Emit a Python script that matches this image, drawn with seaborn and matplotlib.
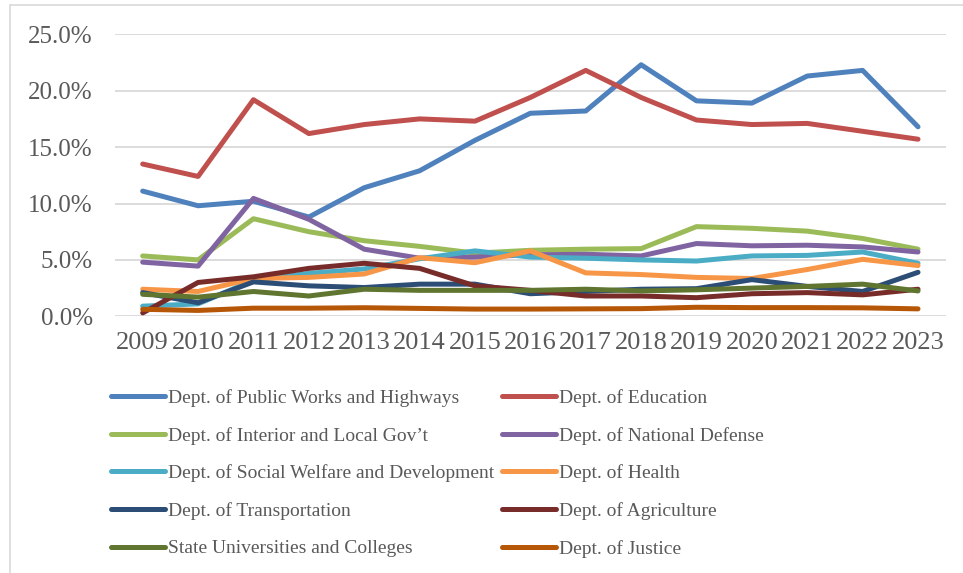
import pandas as pd
import seaborn as sns
import matplotlib
matplotlib.use('Agg')
import matplotlib.pyplot as plt
from matplotlib.lines import Line2D
from matplotlib.ticker import PercentFormatter

years = ['2009', '2010', '2011', '2012', '2013', '2014', '2015', '2016',
         '2017', '2018', '2019', '2020', '2021', '2022', '2023']

# share of total budget, percent
dpwh = [11.1, 9.8, 10.2, 8.8, 11.4, 12.9, 15.6, 18.0, 18.2, 22.3, 19.1, 18.9, 21.3, 21.8, 16.8]
deped = [13.5, 12.4, 19.2, 16.2, 17.0, 17.5, 17.3, 19.4, 21.8, 19.4, 17.4, 17.0, 17.1, 16.4, 15.7]
dilg = [5.35, 5.0, 8.65, 7.5, 6.7, 6.2, 5.6, 5.85, 5.95, 6.0, 7.95, 7.8, 7.55, 6.9, 5.95]
dnd = [4.8, 4.45, 10.45, 8.6, 5.95, 5.15, 5.25, 5.45, 5.5, 5.35, 6.45, 6.25, 6.3, 6.15, 5.7]
dswd = [0.9, 1.1, 3.2, 3.8, 4.2, 5.1, 5.8, 5.25, 5.15, 5.0, 4.9, 5.35, 5.4, 5.7, 4.7]
doh = [2.4, 2.2, 3.35, 3.45, 3.75, 5.2, 4.75, 5.8, 3.85, 3.7, 3.45, 3.35, 4.15, 5.05, 4.5]
dotr = [2.1, 1.2, 3.05, 2.7, 2.55, 2.85, 2.85, 2.0, 2.2, 2.4, 2.45, 3.25, 2.65, 2.2, 3.9]
da = [0.3, 3.0, 3.5, 4.25, 4.7, 4.25, 2.7, 2.3, 1.8, 1.8, 1.65, 2.0, 2.1, 1.9, 2.4]
sucs = [1.95, 1.7, 2.2, 1.8, 2.4, 2.3, 2.3, 2.3, 2.4, 2.25, 2.35, 2.5, 2.65, 2.85, 2.25]
doj = [0.62, 0.52, 0.72, 0.72, 0.76, 0.7, 0.64, 0.64, 0.66, 0.68, 0.8, 0.77, 0.77, 0.75, 0.66]

departments = ['Dept. of Public Works and Highways', 'Dept. of Education',
               'Dept. of Interior and Local Gov\u2019t', 'Dept. of National Defense',
               'Dept. of Social Welfare and Development', 'Dept. of Health',
               'Dept. of Transportation', 'Dept. of Agriculture',
               'State Universities and Colleges', 'Dept. of Justice']
series = [dpwh, deped, dilg, dnd, dswd, doh, dotr, da, sucs, doj]
colors = ['#4F81BD', '#C0504D', '#9BBB59', '#8064A2', '#4BACC6', '#F79646',
          '#2C4D75', '#772C2A', '#5F7530', '#B65708']

rows = []
for name, vals in zip(departments, series):
    for yr, v in zip(years, vals):
        rows.append({'year': yr, 'share': v, 'dept': name})
df = pd.DataFrame(rows)

sns.set_theme(style='white')
plt.rcParams['font.family'] = ['Liberation Serif', 'DejaVu Serif']

W, H = 963, 573
fig = plt.figure(figsize=(W / 100, H / 100), dpi=100)
ax = fig.add_axes([115 / W, 1 - 316.3 / H, (945.7 - 115) / W, (316.3 - 34.3) / H])

sns.lineplot(data=df, x='year', y='share', hue='dept', hue_order=departments,
             palette=colors, linewidth=3.6, legend=False, ax=ax)
for ln in ax.lines:
    ln.set_solid_capstyle('round')
    ln.set_solid_joinstyle('round')

ax.set_xlim(-0.5, 14.5)
ax.set_ylim(0, 25)
ax.set_yticks([0, 5, 10, 15, 20, 25])
ax.yaxis.set_major_formatter(PercentFormatter(xmax=100, decimals=1))
ax.grid(axis='y', color='#D9D9D9', linewidth=1.3)
ax.set_axisbelow(True)
sns.despine(ax=ax, left=True, bottom=True)
ax.set_xlabel('')
ax.set_ylabel('')
ax.tick_params(axis='x', labelsize=19, colors='#595959', length=0, pad=11)
ax.tick_params(axis='y', labelsize=18, colors='#595959', length=0, pad=16)

# chart area border (left and top edges visible)
fig.add_artist(Line2D([10 / W, 10 / W], [0, 1 - 5 / H], color='#D9D9D9', lw=1.2,
                      transform=fig.transFigure))
fig.add_artist(Line2D([10 / W, 1], [1 - 5 / H, 1 - 5 / H], color='#D9D9D9', lw=1.2,
                      transform=fig.transFigure))

handles = [Line2D([0], [0], color=c, lw=3.6, solid_capstyle='round') for c in colors]
for col, x0 in [(0, 111), (1, 502)]:
    idx = list(range(col, 10, 2))
    fig.legend([handles[i] for i in idx], [departments[i] for i in idx],
               loc='upper left', bbox_to_anchor=(x0 / W, 1 - 389 / H),
               frameon=False, fontsize=14, handlelength=2.8, handletextpad=0.15,
               labelspacing=1.02, borderpad=0, borderaxespad=0,
               labelcolor='#595959')

fig.savefig('out.png', dpi=100)
